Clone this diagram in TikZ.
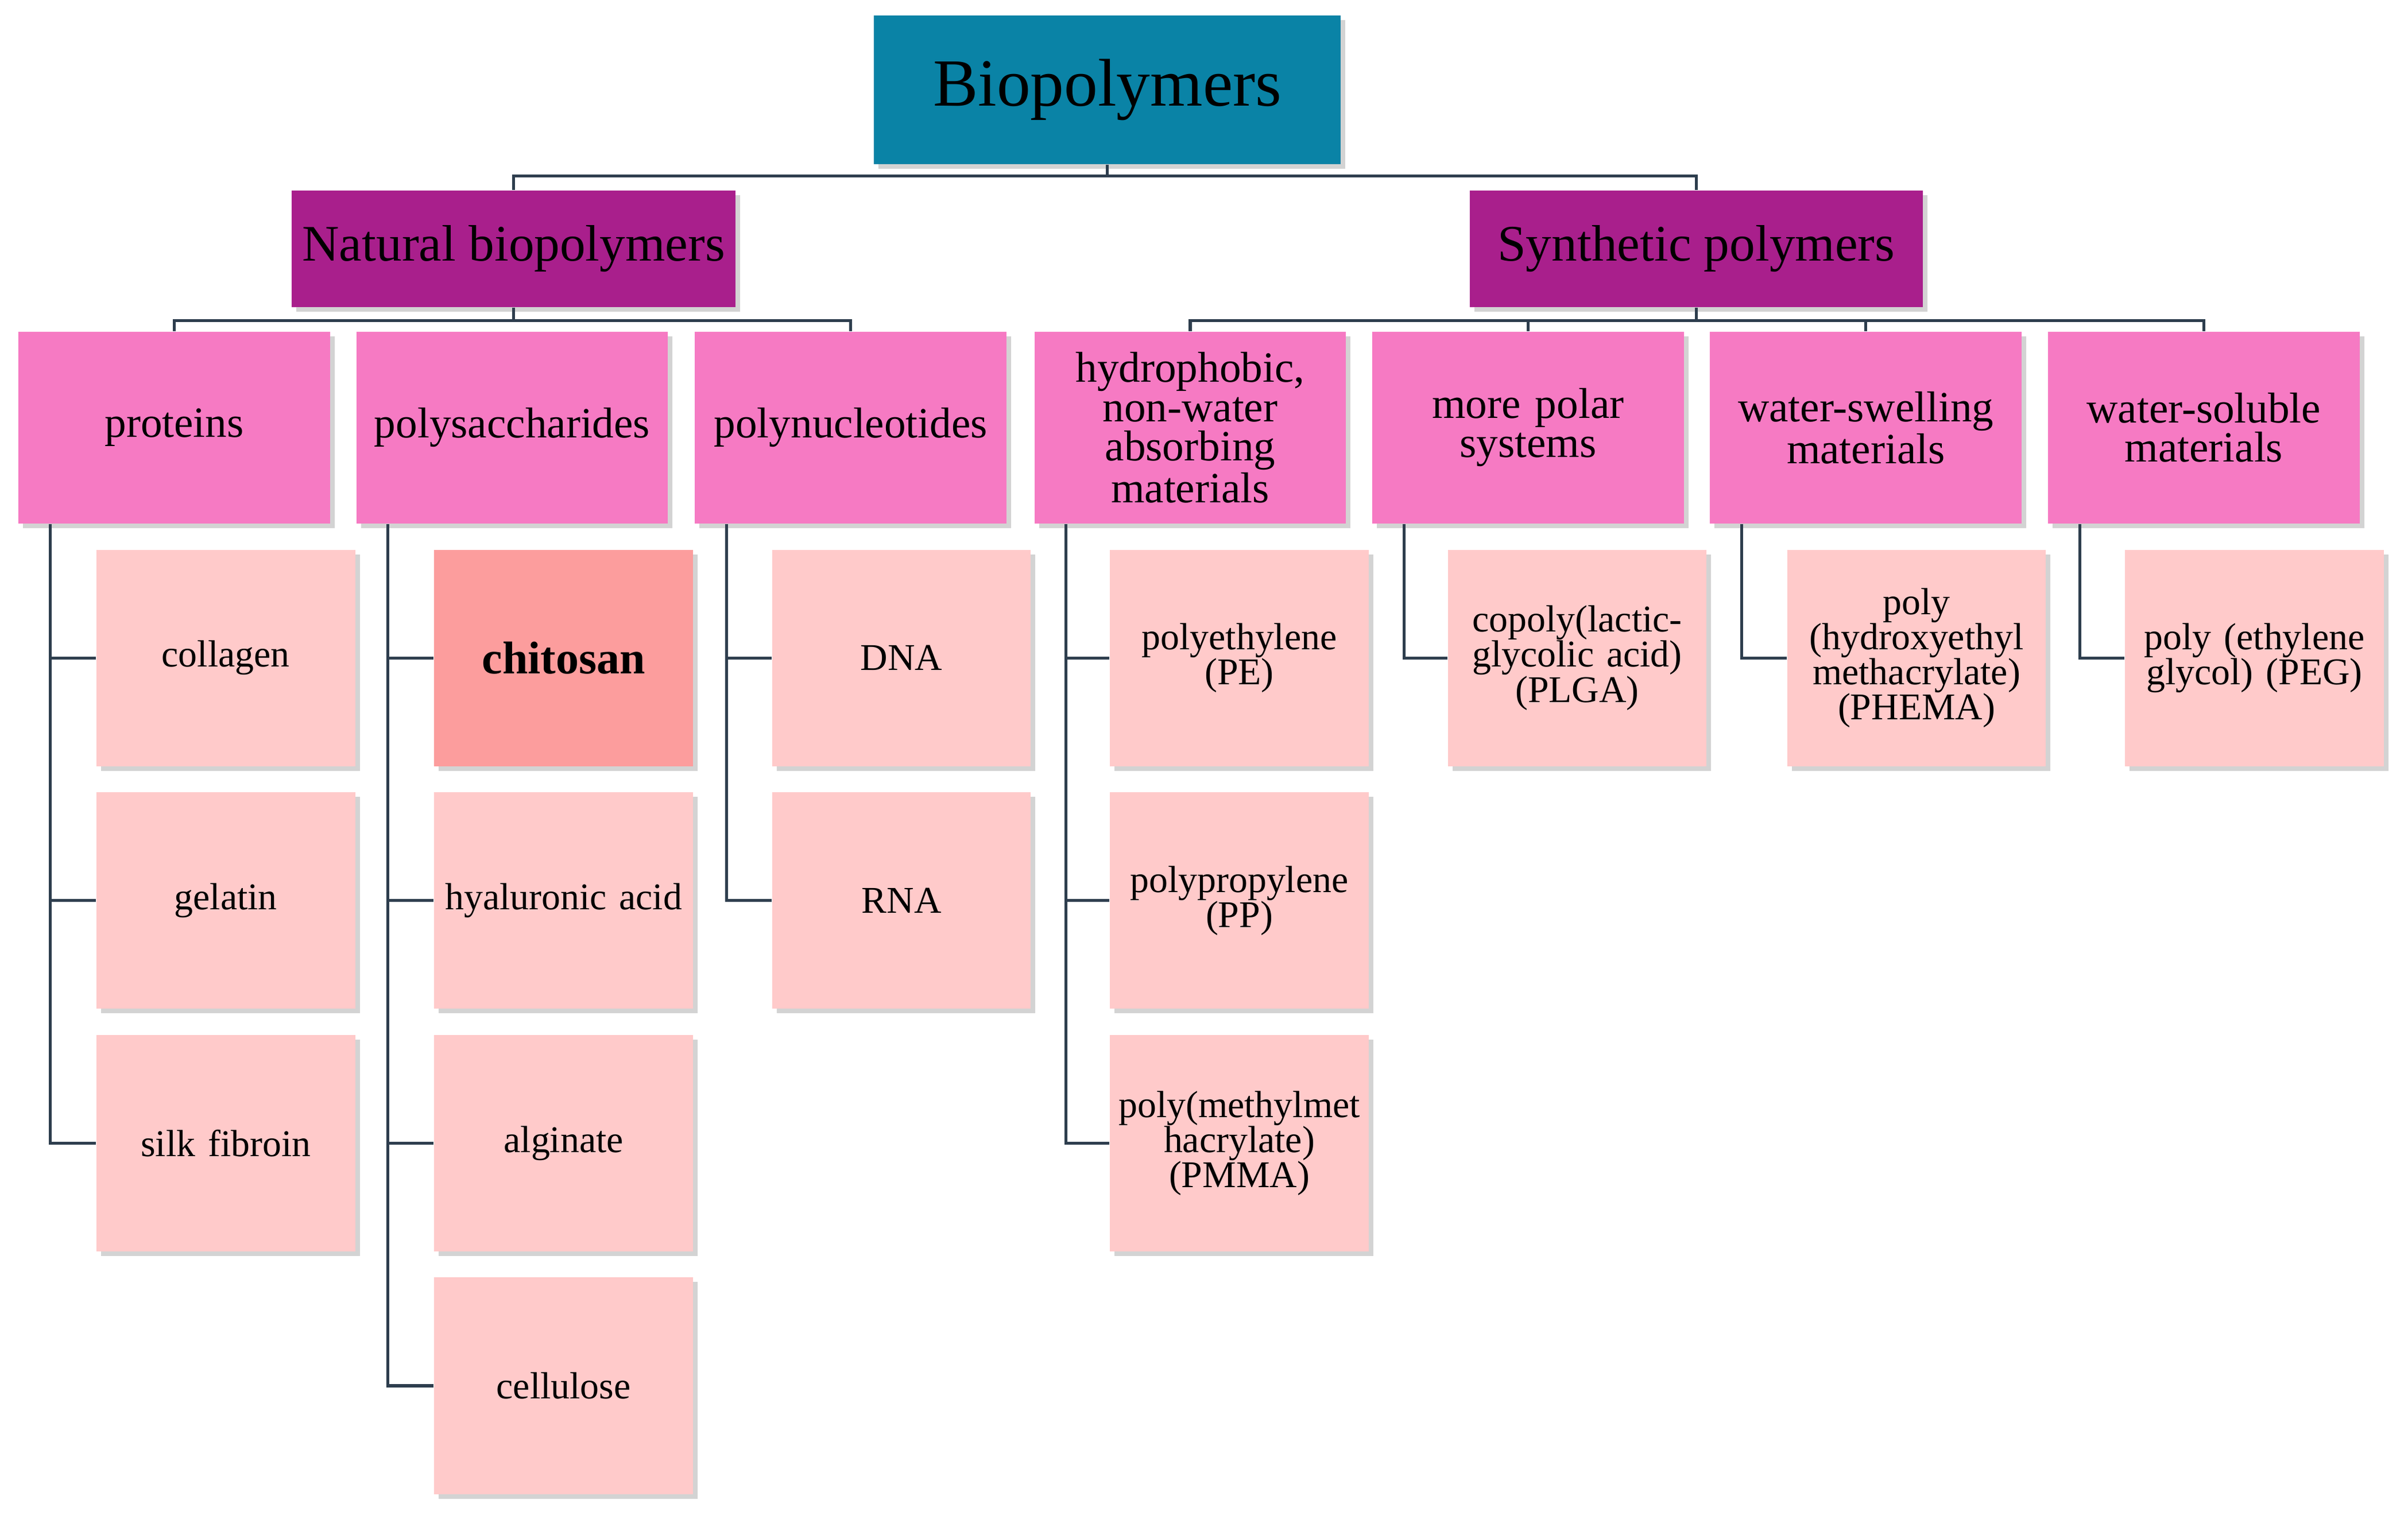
\documentclass[tikz,border=0pt]{standalone}
\usepackage{fontspec}
\setmainfont{Liberation Serif}
\usetikzlibrary{shadows}
\definecolor{teal1}{HTML}{0A83A6}
\definecolor{purp}{HTML}{A91F8C}
\definecolor{pinkA}{HTML}{F67AC3}
\definecolor{leafc}{HTML}{FFCACA}
\definecolor{chit}{HTML}{FC9D9D}
\definecolor{lnc}{HTML}{2E3E4E}
\begin{document}
\begin{tikzpicture}[x=0.02cm,y=-0.02cm,
  box/.style={draw=none,align=center,inner sep=1pt,drop shadow={shadow xshift=0.06cm,shadow yshift=-0.06cm,opacity=0.35}},
  top/.style={box,fill=teal1,minimum width=6.08cm,minimum height=1.94cm,font=\fontsize{25}{28}\selectfont},
  l2/.style={box,fill=purp,minimum width=5.8cm,minimum height=1.52cm,font=\fontsize{19}{22}\selectfont},
  l3/.style={box,fill=pinkA,minimum width=4.06cm,minimum height=2.5cm,text width=3.95cm,font=\fontsize{16}{14.5}\selectfont},
  lf/.style={box,fill=leafc,minimum width=3.36cm,minimum height=2.82cm,text width=3.3cm,font=\fontsize{14}{13}\selectfont},
  ln/.style={draw=lnc,line width=1.1pt}]
\useasboundingbox (0,0) rectangle (1568,997);
\node[top] (bio) at (721,58.5) {Biopolymers};
\node[l2,minimum width=5.78cm] (nat) at (334.5,162) {Natural biopolymers};
\node[l2,minimum width=5.9cm] (syn) at (1104.5,162) {Synthetic polymers};
\node[l3] (prot) at (113.5,278.5) {proteins};
\node[l3] (poly) at (333.5,278.5) {polysaccharides};
\node[l3] (nuc) at (554,278.5) {polynucleotides};
\node[l3] (hyd) at (775,278.5) {hydrophobic,\\non-water\\absorbing\\materials};
\node[l3] (pol) at (995,278.5) {more polar\\systems};
\node[l3] (swe) at (1215,278.5) {water-swelling\\materials};
\node[l3] (sol) at (1435,278.5) {water-soluble\\materials};
\node[lf] (col) at (147,428.5) {collagen};
\node[lf] (gel) at (147,586.5) {gelatin};
\node[lf] (silk) at (147,744.5) {silk fibroin};
\node[lf,fill=chit,font=\fontsize{17}{17}\selectfont\bfseries] (chi) at (367,428.5) {chitosan};
\node[lf] (hya) at (367,586.5) {hyaluronic acid};
\node[lf] (alg) at (367,744.5) {alginate};
\node[lf] (cel) at (367,902.5) {cellulose};
\node[lf] (dna) at (587,428.5) {DNA};
\node[lf] (rna) at (587,586.5) {RNA};
\node[lf] (pe) at (807,428.5) {polyethylene\\(PE)};
\node[lf] (pp) at (807,586.5) {polypropylene\\(PP)};
\node[lf] (pmma) at (807,744.5) {poly(methylmet\\hacrylate)\\(PMMA)};
\node[lf] (plga) at (1027,428.5) {copoly(lactic-\\glycolic acid)\\(PLGA)};
\node[lf] (phema) at (1248,428.5) {poly\\(hydroxyethyl\\methacrylate)\\(PHEMA)};
\node[lf] (peg) at (1468,428.5) {poly (ethylene\\glycol) (PEG)};
% connectors
\begin{scope}[on background layer/.style={}]
\draw[ln] (nat.north) -- ++(0,-9) coordinate (j1) -| (syn.north);
\draw[ln] (bio.south) -- (bio.south |- j1);
\draw[ln] (prot.north) -- ++(0,-7) coordinate (j2) -| (nuc.north);
\draw[ln] (nat.south) -- (nat.south |- j2);
\draw[ln] (hyd.north) -- ++(0,-7) coordinate (j3) -| (sol.north);
\draw[ln] (pol.north) -- (pol.north |- j3);
\draw[ln] (swe.north) -- (swe.north |- j3);
\draw[ln] (syn.south) -- (syn.south |- j3);
\end{scope}
\foreach \p/\l in {prot/col,prot/gel,prot/silk,poly/chi,poly/hya,poly/alg,poly/cel,nuc/dna,nuc/rna,hyd/pe,hyd/pp,hyd/pmma,pol/plga,swe/phema,sol/peg}
  \draw[ln] ([xshift=0.42cm]\p.south west) |- (\l.west);
\end{tikzpicture}
\end{document}
